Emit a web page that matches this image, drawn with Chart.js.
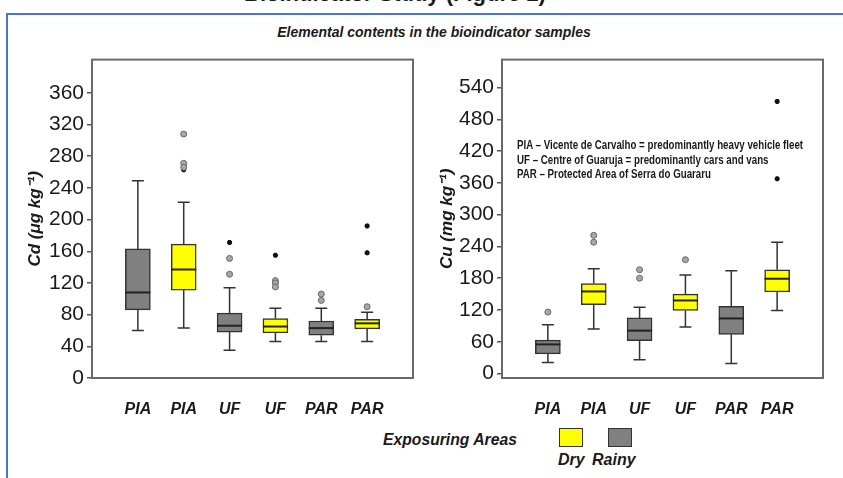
<!DOCTYPE html>
<html>
<head>
<meta charset="utf-8">
<script src="https://cdn.jsdelivr.net/npm/chart.js@4.4.1/dist/chart.umd.min.js"></script>
<style>
    body { margin: 0; width: 843px; height: 478px; overflow: hidden; position: relative; background: #fff; font-family: "Liberation Sans", Arial, sans-serif; color: #1a1a1a; }
    #frame { position: absolute; left: 6px; top: 13px; width: 900px; height: 600px; border: 2px solid #4a78c8; box-sizing: border-box; }
    #fig { position: absolute; top: -19px; left: 0; width: 790px; text-align: center; font: bold 22px "Liberation Sans", Arial; }
    #title { position: absolute; top: 24px; left: 0; width: 868px; text-align: center; font: italic bold 14px "Liberation Sans", Arial; }
    .wrap { position: absolute; top: 44px; }
    #notes { position: absolute; left: 517px; top: 138px; font: bold 12px "Liberation Sans", Arial; line-height: 14.5px; transform-origin: 0 0; white-space: nowrap; }
    #legTitle { position: absolute; left: 383px; top: 430px; font: italic bold 17px "Liberation Sans", Arial; white-space: nowrap; transform-origin: 0 0; }
    .sw { position: absolute; top: 428px; width: 22px; height: 17px; border: 1.5px solid #333; }
    .lab { position: absolute; top: 451px; font: italic bold 16px "Liberation Sans", Arial; }
</style>
</head>
<body>
<div id="fig">Bioindicator Study (Figure 2)</div>
<div id="frame"></div>
<div id="title">Elemental contents in the bioindicator samples</div>
<div class="wrap" style="left:0"><canvas id="cdChart" width="420" height="376"></canvas></div>
<div class="wrap" style="left:420px"><canvas id="cuChart" width="423" height="376"></canvas></div>
<div id="notes">
    <div>PIA – Vicente de Carvalho = predominantly heavy vehicle fleet</div>
    <div>UF – Centre of Guaruja = predominantly cars and vans</div>
    <div>PAR – Protected Area of Serra do Guararu</div>
</div>
<div id="legTitle">Exposuring Areas</div>
<div class="sw" style="left:559px; background:#ffff00"></div>
<div class="sw" style="left:608px; background:#808080"></div>
<div class="lab" style="left:558px">Dry</div>
<div class="lab" style="left:592px">Rainy</div>
<script>
// categories + season of each box (Rainy = grey, Dry = yellow)
const sites = ['PIA', 'PIA', 'UF', 'UF', 'PAR', 'PAR'];
const seasons = ['Rainy', 'Dry', 'Rainy', 'Dry', 'Rainy', 'Dry'];

// Cd (µg kg-1)
const cdMin = [60, 63, 35, 46, 46, 46];
const cdQ1 = [86, 111, 58, 57, 54, 62];
const cdMed = [108, 137, 66, 65, 63, 69];
const cdQ3 = [163, 169, 82, 75, 72, 74];
const cdMax = [249, 222, 114, 88, 88, 83];
const cdCircles = [{ x: 2, y: 308 }, { x: 2, y: 271 }, { x: 2, y: 266 }, { x: 3, y: 151 }, { x: 3, y: 131 }, { x: 4, y: 123 }, { x: 4, y: 120 }, { x: 4, y: 115 }, { x: 5, y: 106 }, { x: 5, y: 98 }, { x: 6, y: 90 }];
const cdStars = [{ x: 2, y: 263 }, { x: 3, y: 171 }, { x: 4, y: 155 }, { x: 6, y: 192 }, { x: 6, y: 158 }];
const cdTicks = [0, 40, 80, 120, 160, 200, 240, 280, 320, 360];

// Cu (mg kg-1)
const cuMin = [21, 84, 26, 88, 19, 119];
const cuQ1 = [37, 130, 62, 119, 74, 154];
const cuMed = [55, 155, 81, 138, 104, 179];
const cuQ3 = [63, 170, 105, 150, 127, 196];
const cuMax = [92, 198, 125, 186, 194, 248];
const cuCircles = [{ x: 1, y: 116 }, { x: 2, y: 261 }, { x: 2, y: 248 }, { x: 3, y: 196 }, { x: 3, y: 180 }, { x: 4, y: 215 }];
const cuStars = [{ x: 6, y: 514 }, { x: 6, y: 368 }];
const cuTicks = [0, 60, 120, 180, 240, 300, 360, 420, 480, 540];

const seasonColor = { Dry: '#ffff00', Rainy: '#808080' };

const boxParts = {
    id: 'boxParts',
    beforeDatasetsDraw: (chart, args, o) => {
        const { ctx, scales: { x, y } } = chart;
        ctx.save();
        ctx.strokeStyle = '#333'; ctx.lineWidth = 1.5;
        o.min.forEach((v, i) => {
            const px = x.getPixelForValue(i + 1);
            [[o.q1[i], v], [o.q3[i], o.max[i]]].forEach(([a, b]) => {
                ctx.beginPath();
                ctx.moveTo(px, y.getPixelForValue(a)); ctx.lineTo(px, y.getPixelForValue(b));
                ctx.moveTo(px - 6, y.getPixelForValue(b)); ctx.lineTo(px + 6, y.getPixelForValue(b));
                ctx.stroke();
            });
        });
        ctx.restore();
    },
    afterDatasetsDraw: (chart, args, o) => {
        const { ctx, scales: { x, y } } = chart;
        ctx.save();
        ctx.strokeStyle = '#222'; ctx.lineWidth = 2;
        o.med.forEach((v, i) => {
            const px = x.getPixelForValue(i + 1), py = y.getPixelForValue(v);
            ctx.beginPath(); ctx.moveTo(px - 12.5, py); ctx.lineTo(px + 12.5, py); ctx.stroke();
        });
        const a = chart.chartArea;
        ctx.strokeStyle = '#6a6a6a'; ctx.lineWidth = 2;
        ctx.strokeRect(a.left, a.top, a.right - a.left, a.bottom - a.top);
        ctx.restore();
    }
};

const makeBox = (id, d) => new Chart(document.getElementById(id), {
    type: 'bar',
    data: {
        datasets: [
            {
                data: d.q1.map((q, i) => ({ x: i + 1, y: [q, d.q3[i]] })),
                backgroundColor: seasons.map(s => seasonColor[s]),
                borderColor: '#333', borderWidth: 1.5, borderSkipped: false, barThickness: 25, order: 2
            },
            { type: 'scatter', data: d.circles, pointStyle: 'circle', pointRadius: 3, backgroundColor: '#a8a8a8', borderColor: '#666', borderWidth: 1, order: 1 },
            { type: 'scatter', data: d.stars, pointStyle: 'star', pointRadius: 2.5, borderColor: '#111', borderWidth: 2, order: 1 }
        ]
    },
    options: {
        responsive: false, animation: false,
        layout: { padding: { left: d.padLeft, right: d.padRight, top: 0, bottom: 0 } },
        plugins: { legend: { display: false }, tooltip: { enabled: false }, boxParts: d },
        scales: {
            x: {
                type: 'linear', min: 0, max: 7, offset: false,
                afterBuildTicks: s => { s.ticks = sites.map((c, i) => ({ value: i + 1 })); },
                afterFit: s => { s.height = 42; },
                ticks: { callback: (v) => sites[v - 1], color: '#1a1a1a', padding: 14, font: { family: 'Liberation Sans', size: 16, style: 'italic', weight: 'bold' }, maxRotation: 0, autoSkip: false },
                grid: { display: false, offset: false }, border: { display: false }
            },
            y: {
                min: d.yMin, max: d.yMax,
                afterBuildTicks: s => { s.ticks = d.ticks.map(v => ({ value: v })); },
                afterFit: s => { s.width = d.axisW; },
                ticks: { color: '#1a1a1a', padding: 3, font: { family: 'Liberation Sans', size: 21 } },
                grid: { drawOnChartArea: false, tickLength: 5, color: '#555', lineWidth: 1.5 },
                border: { display: false },
                title: { display: true, text: d.title, color: '#1a1a1a', font: { family: 'Liberation Sans', size: 17, style: 'italic', weight: 'bold' } }
            }
        }
    },
    plugins: [boxParts]
});

makeBox('cdChart', { min: cdMin, q1: cdQ1, med: cdMed, q3: cdQ3, max: cdMax, circles: cdCircles, stars: cdStars, ticks: cdTicks, yMin: 0, yMax: 402, title: 'Cd (μg kg⁻¹)', padLeft: 21, axisW: 71, padRight: 7 });
makeBox('cuChart', { min: cuMin, q1: cuQ1, med: cuMed, q3: cuQ3, max: cuMax, circles: cuCircles, stars: cuStars, ticks: cuTicks, yMin: -8.5, yMax: 593, title: 'Cu (mg kg⁻¹)', padLeft: 13, axisW: 69, padRight: 20 });

// squeeze the condensed labels to the width they have in the figure
const fit = (el, w) => { el.style.transform = `scaleX(${w / el.scrollWidth})`; };
fit(document.getElementById('notes'), 286);
fit(document.getElementById('legTitle'), 134);
</script>
</body>
</html>
